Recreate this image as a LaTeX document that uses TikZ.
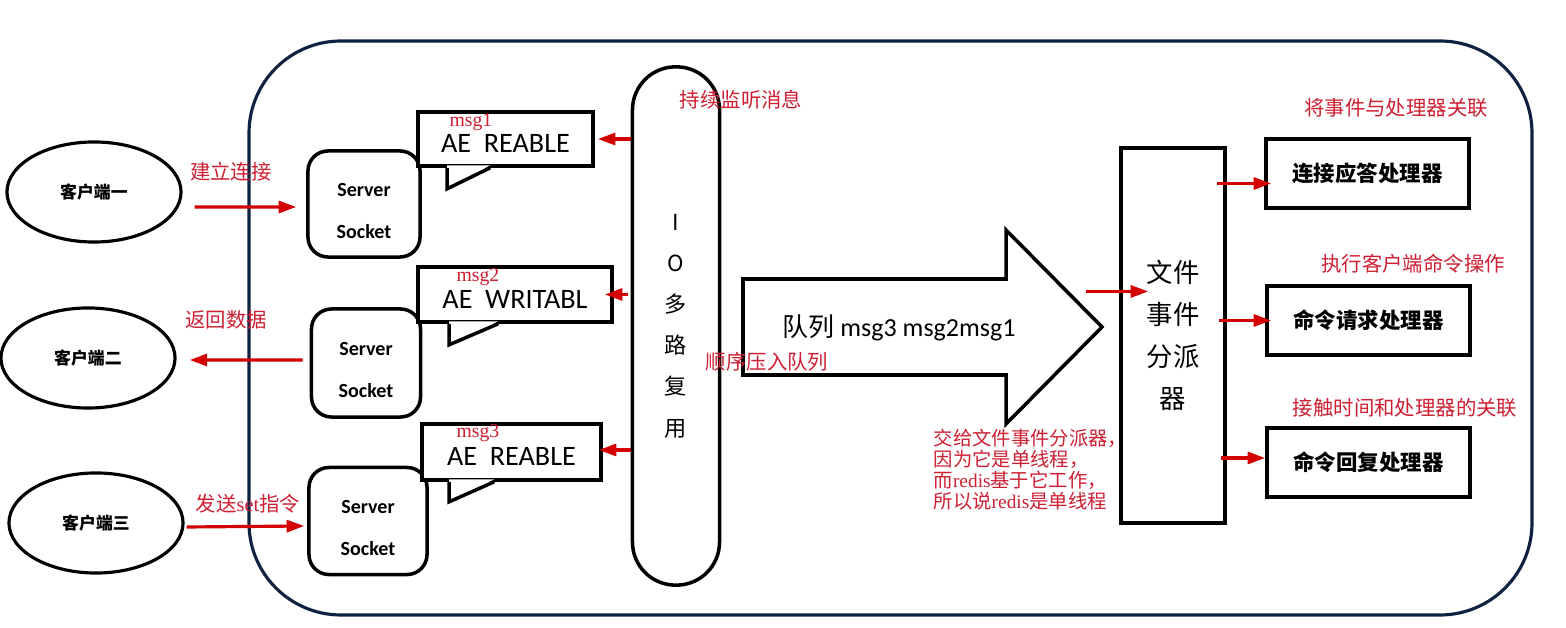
\documentclass[tikz,border=0pt]{standalone}
\usepackage{fontspec}
\setmainfont{Carlito}
\newfontfamily\cjk{Noto Sans CJK SC}
\newfontfamily\serifmsg{Liberation Serif}
\usetikzlibrary{arrows.meta,shapes.geometric}
\definecolor{lbl}{RGB}{205,30,50}
\definecolor{arr}{RGB}{212,0,0}
\definecolor{frm}{RGB}{15,35,65}

\tikzset{
    client/.style={draw,ellipse,line width=0.9pt,minimum width=1.74cm,minimum height=1cm,inner sep=0pt,font=\cjk\bfseries\fontsize{4.8}{6}\selectfont},
    sockbox/.style={draw,line width=1pt,rounded corners=0.2cm,align=center,inner sep=0pt,font=\bfseries\fontsize{5.7}{12}\selectfont},
    msgbox/.style={draw,fill=white,line width=1pt,inner sep=0pt,text height=0.27cm,text depth=0cm,font=\fontsize{8}{9}\selectfont},
    msgtag/.style={text=lbl,inner sep=0pt,font=\serifmsg\fontsize{5.6}{6}\selectfont},
    note/.style={text=lbl,inner sep=0pt,font=\cjk\fontsize{5.8}{6}\selectfont},
    handler/.style={draw,line width=1pt,minimum width=2.03cm,minimum height=0.69cm,font=\cjk\bfseries\fontsize{6.1}{7}\selectfont},
    redarr/.style={draw=arr,line width=0.9pt,-{Triangle[length=5pt,width=3.4pt]}},
}

\begin{document}
\begin{tikzpicture}[x=0.01cm,y=-0.01cm]
    \useasboundingbox (0,0) rectangle (1566,628);
    % outer frame
    \draw[frm,line width=0.9pt,rounded corners=0.92cm] (249,41) rectangle (1532,615);
    %
    \node[client] (c1) at (94,192) {客户端一};
    \node[client] (c2) at (88,358) {客户端二};
    \node[client] (c3) at (96,523) {客户端三};
    %
    \node[sockbox,minimum width=1.12cm,minimum height=1.06cm] (s1) at (364,204) {\rule{0pt}{0.27cm}Server\\Socket};
    \node[sockbox,minimum width=1.09cm,minimum height=1.08cm] (s2) at (366,363) {\rule{0pt}{0.27cm}Server\\Socket};
    \node[sockbox,minimum width=1.18cm,minimum height=1.07cm] (s3) at (368,521) {\rule{0pt}{0.27cm}Server\\Socket};
    %
    \node[msgbox,minimum width=1.75cm,minimum height=0.54cm] (m1) at (505.5,139) {AE~~REABLE};
    \node[msgbox,minimum width=1.94cm,minimum height=0.55cm] (m2) at (515,294.5) {AE~~WRITABL};
    \node[msgbox,minimum width=1.79cm,minimum height=0.56cm] (m3) at (511.5,452) {AE~~REABLE};
    \foreach \m/\a/\b/\d in {m1/0.31/0.74/0.21, m2/0.33/0.82/0.21, m3/0.29/0.74/0.20}{
        \fill[white] ([xshift=\a cm,yshift=0.025cm]\m.south west) -- ([xshift=\a cm,yshift=-\d cm]\m.south west) -- ([xshift=\b cm,yshift=0.025cm]\m.south west) -- cycle;
        \draw[line width=1pt] ([xshift=\a cm]\m.south west) -- ([xshift=\a cm,yshift=-\d cm]\m.south west) -- ([xshift=\b cm]\m.south west);
    }
    \node[msgtag] (t1) at (471,122) {msg1};
    \node[msgtag] (t2) at (478,277) {msg2};
    \node[msgtag] (t3) at (478,433) {msg3};
    %
    \node[draw,line width=1pt,rounded corners=0.43cm,minimum width=0.87cm,minimum height=5.18cm,align=center,font=\cjk\fontsize{6.3}{11.7}\selectfont] (io) at (676,326) {I\\O\\多\\路\\复\\用};
    %
    \coordinate (Q1) at (743,279);
    \coordinate (Q2) at (1006,279);
    \coordinate (Q3) at (1006,230);
    \coordinate (Q4) at (1102,327);
    \coordinate (Q5) at (1006,424);
    \coordinate (Q6) at (1006,375);
    \coordinate (Q7) at (743,375);
    \draw[line width=1pt] (Q1) -- (Q2) -- (Q3) -- (Q4) -- (Q5) -- (Q6) -- (Q7) -- cycle;
    \node[font=\fontsize{7.4}{9}\selectfont] (queue) at (899,328) {{\cjk 队列} msg3 msg2msg1};
    %
    \node[draw,line width=1pt,minimum width=1.04cm,minimum height=3.75cm,align=center,font=\cjk\fontsize{7.5}{11.9}\selectfont] (disp) at (1173,335.5) {文件\\事件\\分派\\器};
    %
    \node[handler] (h1) at (1367.5,173.5) {连接应答处理器};
    \node[handler] (h2) at (1368.5,320.5) {命令请求处理器};
    \node[handler] (h3) at (1368.5,462.5) {命令回复处理器};
    %
    \draw[redarr] ([xshift=0.12cm,yshift=-0.15cm]c1.east) -- ([xshift=-0.1cm,yshift=-0.03cm]s1.west);
    \draw[redarr] ([xshift=-0.07cm,yshift=0.03cm]s2.west) -- ([xshift=0.13cm,yshift=-0.02cm]c2.east);
    \draw[redarr] ([xshift=0.02cm,yshift=-0.04cm]c3.east) -- ([xshift=-0.03cm,yshift=-0.05cm]s3.west);
    %
    \draw[redarr] (io.west |- m1.east) -- ([xshift=0.03cm]m1.east);
    \draw[redarr] ([xshift=-0.03cm]io.west |- m2.east) -- ([xshift=-0.09cm]m2.east);
    \draw[redarr] ([yshift=0.02cm]io.west |- m3.east) -- ([xshift=-0.04cm,yshift=0.02cm]m3.east);
    %
    \draw[redarr] ([xshift=-0.33cm,yshift=0.44cm]disp.west) -- ([xshift=0.29cm,yshift=0.44cm]disp.west);
    \draw[redarr] ([xshift=-0.1cm,yshift=-0.1cm]h1.west -| disp.east) -- ([xshift=0.07cm,yshift=-0.1cm]h1.west);
    \draw[redarr] ([xshift=-0.08cm]h2.west -| disp.east) -- ([xshift=0.06cm]h2.west);
    \draw[redarr] ([xshift=-0.06cm,yshift=0.045cm]h3.west -| disp.east) -- ([yshift=0.045cm]h3.west);
    %
    \node[note] (n1) at (231,172) {建立连接};
    \node[note] (n2) at (226,320) {返回数据};
    \node[note] (n3) at (248,504) {发送{\serifmsg set}指令};
    \node[note] (n4) at (741,100) {持续监听消息};
    \node[note] (n5) at (767,362) {顺序压入队列};
    \node[note] (n6) at (1396,108) {将事件与处理器关联};
    \node[note] (n7) at (1413,264) {执行客户端命令操作};
    \node[note] (n8) at (1405,408) {接触时间和处理器的关联};
    \node[note,anchor=north west,align=left,font=\cjk\fontsize{5.5}{6}\selectfont] (n9) at (933,428) {交给文件事件分派器，\\因为它是单线程，\\而{\serifmsg redis}基于它工作，\\所以说{\serifmsg redis}是单线程};
\end{tikzpicture}
\end{document}
